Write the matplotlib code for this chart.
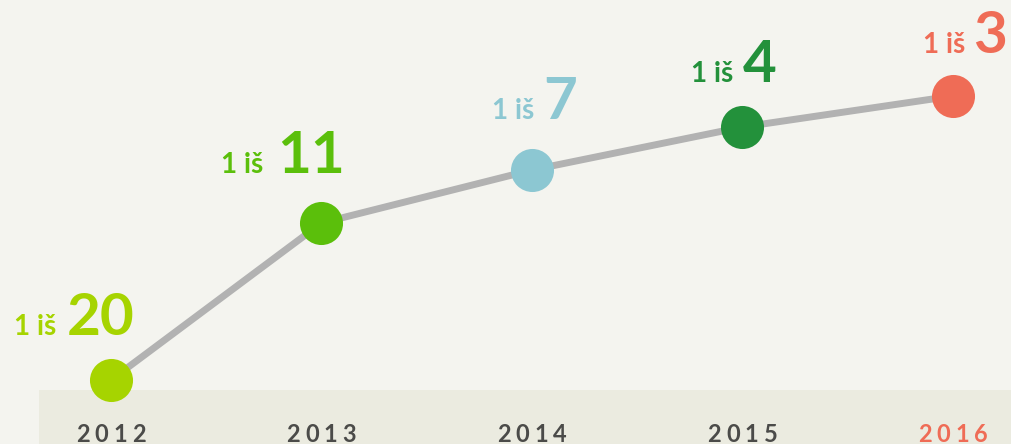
import matplotlib
matplotlib.use("Agg")
import matplotlib.pyplot as plt
from matplotlib.patches import Rectangle

# ── data ──────────────────────────────────────────────────────────────
years = ["2012", "2013", "2014", "2015", "2016"]
levels = [64, 221, 274, 317, 348]          # height of each point (px above bottom)
ranks = ["20", "11", "7", "4", "3"]        # "1 iš N"
colors = ["#a6d400", "#5bbf0b", "#8cc7d2", "#23913b", "#ef6c56"]

# label layout (pixel offsets from each point)
label_dx = [-97, -100, -40, -51, -30]
big_dx = [-44, -44, 11, 0, 20]
label_dy = [45, 50, 51, 45, 43]

BG = "#f4f4ef"
BAND = "#ebebe0"
LINE = "#b2b2b2"
YEAR_TXT = "#4b4b49"
FONT = ["Lato", "DejaVu Sans"]

fig = plt.figure(figsize=(10.12, 4.44), dpi=100, facecolor=BG)
ax = fig.add_axes([0, 0, 1, 1])
ax.set_facecolor(BG)

# x index -> pixel: 111 + 210.5 * i
step = 210.5
x0 = 111
ax.set_xlim(-x0 / step, (1012 - x0) / step)
ax.set_ylim(0, 444)
ax.axis("off")

# bottom band
ax.add_patch(Rectangle((39 / 1012, 0), 1, 54 / 444, transform=ax.transAxes,
                       facecolor=BAND, edgecolor="none", zorder=0))

xs = list(range(len(years)))
ax.plot(xs, levels, color=LINE, lw=5, zorder=2, solid_capstyle="butt")
for x, y, c in zip(xs, levels, colors):
    ax.plot(x, y, "o", ms=31, color=c, mew=0, zorder=3)

# "1 iš N" labels
for x, y, c, r, dx, bdx, dy in zip(xs, levels, colors, ranks, label_dx, big_dx, label_dy):
    ax.annotate("1 iš", xy=(x, y), xytext=(dx, dy), textcoords="offset pixels",
                ha="left", va="baseline", fontsize=20, fontweight="bold",
                color=c, family=FONT, zorder=4)
    ax.annotate(r, xy=(x, y), xytext=(bdx, dy), textcoords="offset pixels",
                ha="left", va="baseline", fontsize=42, fontweight="bold",
                color=c, family=FONT, zorder=4)

# year labels with letter spacing
pitch = 18.7
for x, yr in zip(xs, years):
    c = colors[-1] if yr == years[-1] else YEAR_TXT
    for k, ch in enumerate(yr):
        ax.annotate(ch, xy=(x, 0), xytext=((k - 1.5) * pitch, 2), textcoords="offset pixels",
                    ha="center", va="baseline", fontsize=17, fontweight="bold",
                    color=c, family=FONT, zorder=4)

fig.savefig("out.png", dpi=100, facecolor=BG)
